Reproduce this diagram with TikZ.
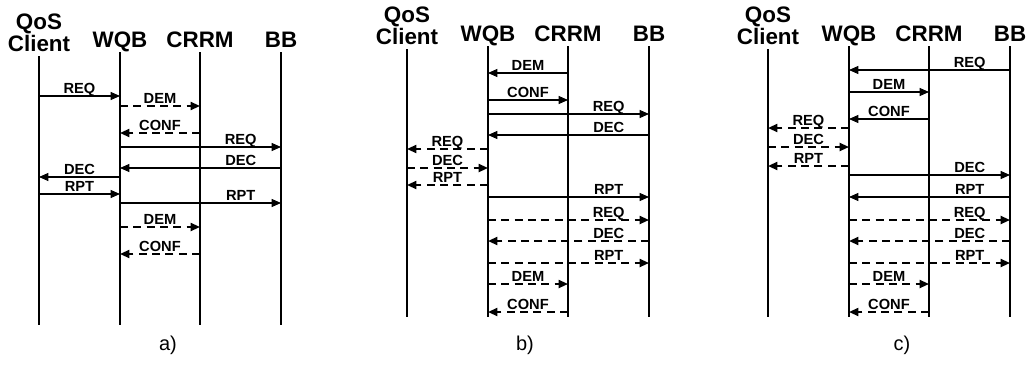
\documentclass[tikz,border=0pt]{standalone}
\usepackage{fontspec}
\setmainfont{Liberation Sans}
\usepackage{tikz}
\usetikzlibrary{arrows.meta}

\begin{document}
\begin{tikzpicture}[x=0.75pt, y=-0.75pt]
\tikzset{head/.style = {font=\fontsize{16.8}{15}\selectfont\bfseries, inner sep=0pt, text depth=0pt, anchor=south, align=center}}
\tikzset{life/.style = {line width=0.8pt}}
\tikzset{msg/.style = {->, > = {Triangle[length=7pt,width=6pt]}, line width=0.8pt}}
\tikzset{dmsg/.style = {msg, line width=1.4pt, dash pattern=on 6pt off 4pt}}
\tikzset{lbl/.style = {above, inner sep=1.5pt, text depth=0pt, font=\fontsize{11}{12}\selectfont\bfseries}}
\tikzset{subcap/.style = {font=\fontsize{15}{16}\selectfont}}
\useasboundingbox (0,0) rectangle (1030,364);
% a)
\node[head](aC) at (39, 52) {QoS\\Client};
\node[head](aW) at (120, 48) {WQB};
\node[head](aR) at (200, 48) {CRRM};
\node[head](aB) at (281, 48) {BB};
\foreach \n in {aC, aW, aR, aB}
  \draw[life] ([yshift=-3pt]\n.south) -- (\n |- 0,325);
\draw[msg] (aC |- 0,96) -- (aW |- 0,96) node[lbl, midway] {REQ};
\draw[dmsg] (aW |- 0,106) -- (aR |- 0,106) node[lbl, midway] {DEM};
\draw[dmsg] (aR |- 0,133) -- (aW |- 0,133) node[lbl, midway] {CONF};
\draw[msg] (aW |- 0,147) -- (aB |- 0,147) node[lbl, pos=0.75] {REQ};
\draw[msg] (aB |- 0,168) -- (aW |- 0,168) node[lbl, pos=0.25] {DEC};
\draw[msg] (aW |- 0,177) -- (aC |- 0,177) node[lbl, midway] {DEC};
\draw[msg] (aC |- 0,194) -- (aW |- 0,194) node[lbl, midway] {RPT};
\draw[msg] (aW |- 0,203) -- (aB |- 0,203) node[lbl, pos=0.75] {RPT};
\draw[dmsg] (aW |- 0,227) -- (aR |- 0,227) node[lbl, midway] {DEM};
\draw[dmsg] (aR |- 0,254) -- (aW |- 0,254) node[lbl, midway] {CONF};
\node[subcap](capa) at (168, 345) {a)};
% b)
\node[head](bC) at (407, 45) {QoS\\Client};
\node[head](bW) at (488, 42) {WQB};
\node[head](bR) at (568, 42) {CRRM};
\node[head](bB) at (649, 42) {BB};
\foreach \n in {bC, bW, bR, bB}
  \draw[life] ([yshift=-3pt]\n.south) -- (\n |- 0,317);
\draw[msg] (bR |- 0,73) -- (bW |- 0,73) node[lbl, midway] {DEM};
\draw[msg] (bW |- 0,100) -- (bR |- 0,100) node[lbl, midway] {CONF};
\draw[msg] (bW |- 0,114) -- (bB |- 0,114) node[lbl, pos=0.75] {REQ};
\draw[msg] (bB |- 0,135) -- (bW |- 0,135) node[lbl, pos=0.25] {DEC};
\draw[dmsg] (bW |- 0,149) -- (bC |- 0,149) node[lbl, midway] {REQ};
\draw[dmsg] (bC |- 0,168) -- (bW |- 0,168) node[lbl, midway] {DEC};
\draw[dmsg] (bW |- 0,185) -- (bC |- 0,185) node[lbl, midway] {RPT};
\draw[msg] (bW |- 0,197) -- (bB |- 0,197) node[lbl, pos=0.75] {RPT};
\draw[dmsg] (bW |- 0,220) -- (bB |- 0,220) node[lbl, pos=0.75] {REQ};
\draw[dmsg] (bB |- 0,241) -- (bW |- 0,241) node[lbl, pos=0.25] {DEC};
\draw[dmsg] (bW |- 0,263) -- (bB |- 0,263) node[lbl, pos=0.75] {RPT};
\draw[dmsg] (bW |- 0,284) -- (bR |- 0,284) node[lbl, midway] {DEM};
\draw[dmsg] (bR |- 0,312) -- (bW |- 0,312) node[lbl, midway] {CONF};
\node[subcap](capb) at (525, 345) {b)};
% c)
\node[head](cC) at (768, 45) {QoS\\Client};
\node[head](cW) at (849, 42) {WQB};
\node[head](cR) at (929, 42) {CRRM};
\node[head](cB) at (1010, 42) {BB};
\foreach \n in {cC, cW, cR, cB}
  \draw[life] ([yshift=-3pt]\n.south) -- (\n |- 0,317);
\draw[msg] (cB |- 0,70) -- (cW |- 0,70) node[lbl, pos=0.25] {REQ};
\draw[msg] (cW |- 0,92) -- (cR |- 0,92) node[lbl, midway] {DEM};
\draw[msg] (cR |- 0,119) -- (cW |- 0,119) node[lbl, midway] {CONF};
\draw[dmsg] (cW |- 0,128) -- (cC |- 0,128) node[lbl, midway] {REQ};
\draw[dmsg] (cC |- 0,147) -- (cW |- 0,147) node[lbl, midway] {DEC};
\draw[dmsg] (cW |- 0,166) -- (cC |- 0,166) node[lbl, midway] {RPT};
\draw[msg] (cW |- 0,175) -- (cB |- 0,175) node[lbl, pos=0.75] {DEC};
\draw[msg] (cB |- 0,197) -- (cW |- 0,197) node[lbl, pos=0.25] {RPT};
\draw[dmsg] (cW |- 0,220) -- (cB |- 0,220) node[lbl, pos=0.75] {REQ};
\draw[dmsg] (cB |- 0,241) -- (cW |- 0,241) node[lbl, pos=0.25] {DEC};
\draw[dmsg] (cW |- 0,263) -- (cB |- 0,263) node[lbl, pos=0.75] {RPT};
\draw[dmsg] (cW |- 0,284) -- (cR |- 0,284) node[lbl, midway] {DEM};
\draw[dmsg] (cR |- 0,312) -- (cW |- 0,312) node[lbl, midway] {CONF};
\node[subcap](capc) at (902, 345) {c)};
\end{tikzpicture}
\end{document}
